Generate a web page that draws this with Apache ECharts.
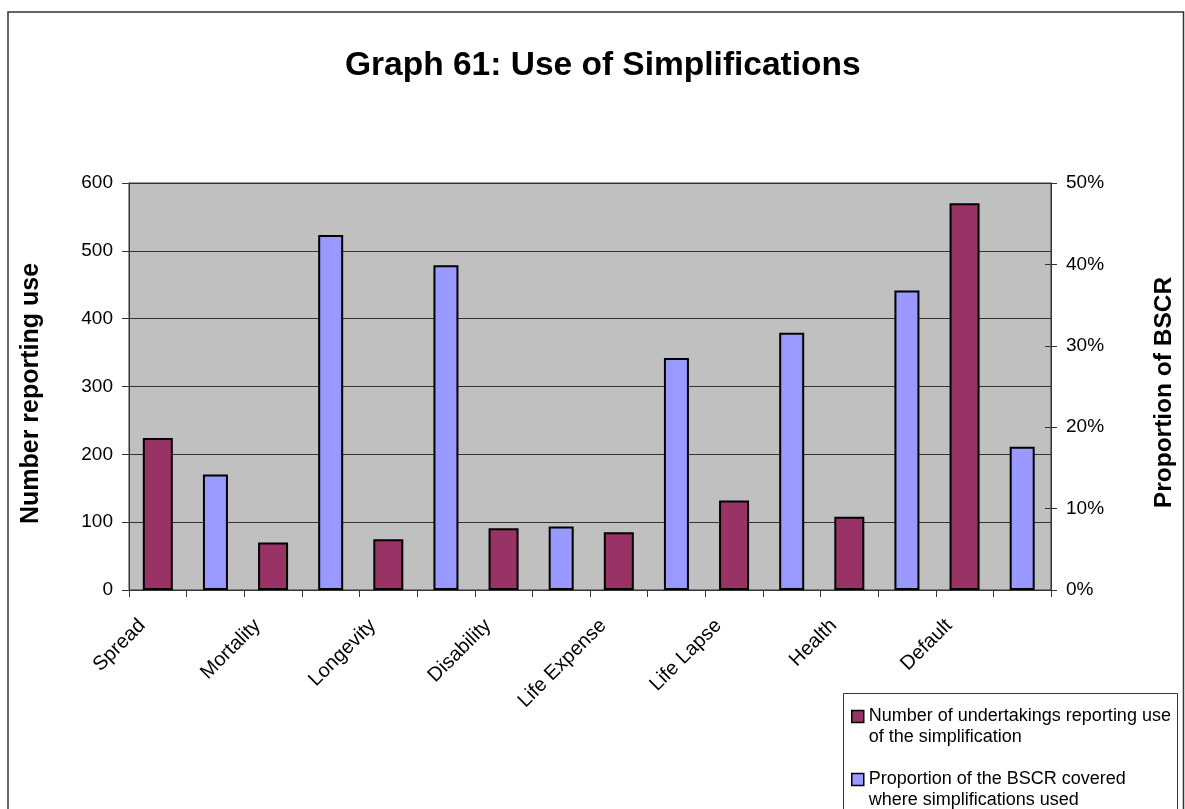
<!DOCTYPE html>
<html>
<head>
<meta charset="utf-8">
<title>Graph 61: Use of Simplifications</title>
<script src="https://cdn.jsdelivr.net/npm/echarts@6/dist/echarts.min.js"></script>
<style>
  html, body { margin: 0; padding: 0; background: #fff; }
  #chart { width: 1185px; height: 809px; }
</style>
</head>
<body>
<div id="chart"></div>
<script>
// simplification categories (each one takes two slots on the axis: count bar, then BSCR bar)
var categories = ['Spread', 'Mortality', 'Longevity', 'Disability', 'Life Expense', 'Life Lapse', 'Health', 'Default'];
// number of undertakings reporting use (left axis)
var undertakings = [224, 70, 75, 91, 85, 132, 108, 570];
// proportion of BSCR covered (right axis)
var bscrShare = [0.142, 0.436, 0.399, 0.078, 0.285, 0.316, 0.368, 0.176];

var countTicks = { min: 0, max: 600, interval: 100 };
var shareTicks = { min: 0, max: 0.5, interval: 0.1 };

var seriesNames = [
    'Number of undertakings reporting use of the simplification',
    'Proportion of the BSCR covered where simplifications used'
];
// leading blank line keeps the legend marker level with the first text line
var legendLines = {};
legendLines[seriesNames[0]] = '\nNumber of undertakings reporting use\nof the simplification';
legendLines[seriesNames[1]] = '\nProportion of the BSCR covered\nwhere simplifications used';

// build the 16 slots
var slots = [], countData = [], shareData = [];
categories.forEach(function (c, i) {
    slots.push(c, '');
    countData.push(undertakings[i], null);
    shareData.push(null, bscrShare[i]);
});

var font = 'Arial, "Liberation Sans", sans-serif';
var dark = '#333';

var chart = echarts.init(document.getElementById('chart'));
chart.setOption({
    backgroundColor: '#fff',
    animation: false,
    textStyle: { fontFamily: font, color: '#000' },
    title: {
        text: 'Graph 61: Use of Simplifications',
        left: 340,
        top: 44,
        textStyle: { fontSize: 33.5, fontWeight: 'bold', color: '#000', fontFamily: font }
    },
    grid: {
        left: 129,
        right: 131,
        top: 183,
        bottom: 219,
        show: true,
        backgroundColor: '#C0C0C0',
        borderColor: dark,
        borderWidth: 1
    },
    legend: {
        orient: 'vertical',
        left: 851,
        top: 685,
        height: 200,
        padding: 0,
        itemGap: 0,
        itemWidth: 12,
        itemHeight: 12,
        icon: 'rect',
        selectedMode: false,
        itemStyle: { borderColor: '#000', borderWidth: 1.5 },
        textStyle: { fontSize: 18, lineHeight: 21, color: '#000', fontFamily: font },
        formatter: function (name) { return legendLines[name]; },
        data: seriesNames
    },
    graphic: [
        {   // outer chart frame (runs off the bottom edge)
            type: 'rect',
            silent: true,
            shape: { x: 8, y: 12, width: 1175.5, height: 900 },
            style: { fill: 'none', stroke: dark, lineWidth: 1.5 }
        },
        {   // legend box
            type: 'rect',
            silent: true,
            shape: { x: 843.5, y: 693.5, width: 334, height: 140 },
            style: { fill: 'none', stroke: dark, lineWidth: 1 }
        }
    ],
    xAxis: [
        {
            type: 'category',
            data: slots,
            boundaryGap: true,
            axisLine: { lineStyle: { color: dark, width: 1 } },
            axisTick: { show: true, interval: 0, length: 7, lineStyle: { color: dark } },
            axisLabel: { interval: 0, rotate: 45, fontSize: 20, margin: 17, padding: [0, 22, 0, 0], color: '#000' },
            splitLine: { show: false }
        },
        {
            type: 'category',
            data: slots,
            show: false
        }
    ],
    yAxis: [
        {
            type: 'value',
            position: 'left',
            min: countTicks.min,
            max: countTicks.max,
            interval: countTicks.interval,
            name: 'Number reporting use',
            nameLocation: 'middle',
            nameRotate: 90,
            nameGap: 85,
            nameTextStyle: { fontSize: 25, fontWeight: 'bold', color: '#000', padding: [0, 14, 0, 0] },
            axisLine: { show: true, lineStyle: { color: dark } },
            axisTick: { show: true, length: 7, lineStyle: { color: dark } },
            axisLabel: { fontSize: 19, margin: 16, color: '#000' },
            splitLine: { show: true, lineStyle: { color: dark, width: 1 } }
        },
        {
            type: 'value',
            position: 'right',
            min: shareTicks.min,
            max: shareTicks.max,
            interval: shareTicks.interval,
            name: 'Proportion of BSCR',
            nameLocation: 'middle',
            nameRotate: 90,
            nameGap: 101,
            nameTextStyle: { fontSize: 24.5, fontWeight: 'bold', color: '#000', padding: [0, 12, 0, 0] },
            axisLine: { show: true, lineStyle: { color: dark } },
            axisTick: { show: true, length: 6, lineStyle: { color: dark } },
            axisLabel: {
                fontSize: 19, margin: 15, color: '#000',
                formatter: function (v) { return Math.round(v * 100) + '%'; }
            },
            splitLine: { show: false }
        },
        {   // inner half of the right axis ticks
            type: 'value',
            position: 'right',
            min: shareTicks.min,
            max: shareTicks.max,
            interval: shareTicks.interval,
            axisLine: { show: false },
            axisTick: { show: true, inside: true, length: 6, lineStyle: { color: dark } },
            axisLabel: { show: false },
            splitLine: { show: false }
        }
    ],
    series: [
        {
            name: seriesNames[0],
            type: 'bar',
            xAxisIndex: 0,
            yAxisIndex: 0,
            barWidth: 30,
            itemStyle: { color: '#993366', borderColor: '#000', borderWidth: 2 },
            data: countData
        },
        {
            name: seriesNames[1],
            type: 'bar',
            xAxisIndex: 1,
            yAxisIndex: 1,
            barWidth: 25,
            itemStyle: { color: '#9999FF', borderColor: '#000', borderWidth: 2 },
            data: shareData
        }
    ]
});
</script>
</body>
</html>
